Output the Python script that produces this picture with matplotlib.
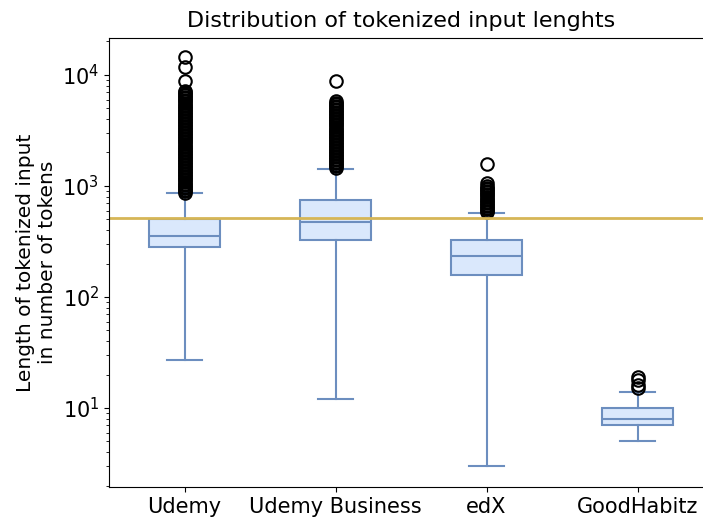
#Boxplot of tokenized input lengths per platform, log scale, 512 token limit line
import matplotlib
matplotlib.use("Agg")
import matplotlib.pyplot as plt

platforms = ["Udemy", "Udemy Business", "edX", "GoodHabitz"]
whislo = [27, 12, 3, 5]
q1 = [282, 327, 158, 7]
med = [355, 474, 234, 8]
q3 = [505, 748, 327, 10]
whishi = [865, 1420, 571, 14]

# outliers (dense runs listed as visible)
udemy_fliers = [870, 898, 927, 956, 987, 1019, 1051, 1085, 1120, 1156, 1193, 1231,
                1270, 1311, 1353, 1396, 1441, 1487, 1535, 1584, 1635, 1687, 1741, 1797,
                1854, 1914, 1975, 2038, 2103, 2171, 2240, 2312, 2386, 2462, 2541, 2622,
                2706, 2793, 2882, 2974, 3069, 3168, 3269, 3374, 3482, 3593, 3708, 3827,
                3949, 4075, 4206, 4340, 4479, 4623, 4770, 4923, 5081, 5243, 5411, 5584,
                5762, 5947, 6137, 6333, 6536, 6745, 6961, 7184, 8830, 11800, 14500]
business_fliers = [1450, 1496, 1544, 1594, 1645, 1697, 1752, 1808, 1866, 1925, 1987,
                   2050, 2116, 2184, 2254, 2326, 2400, 2477, 2556, 2638, 2722, 2809,
                   2899, 2992, 3088, 3187, 3289, 3394, 3502, 3614, 3730, 3849, 3972,
                   4100, 4231, 4366, 4506, 4650, 4799, 4952, 5111, 5274, 5443, 5617,
                   5797, 8840]
edx_fliers = [580, 599, 618, 638, 658, 679, 701, 723, 746, 770, 795, 820, 847, 874,
              902, 930, 960, 1000, 1065, 1580]
goodhabitz_fliers = [15, 16, 18, 19]
fliers = [udemy_fliers, business_fliers, edx_fliers, goodhabitz_fliers]

token_limit = 512

stats = []
for i in range(len(platforms)):
    stats.append({"label": platforms[i], "whislo": whislo[i], "q1": q1[i], "med": med[i],
                  "q3": q3[i], "whishi": whishi[i], "fliers": fliers[i]})

fig = plt.figure(figsize=(7.03, 5.23), dpi=100)
ax = fig.add_axes([109/703, 36/523, 604/703, 449/523])

edge = "#6c8ebf"
ax.bxp(stats, widths=0.47, patch_artist=True,
       boxprops=dict(facecolor="#dae8fc", edgecolor=edge, linewidth=1.5),
       whiskerprops=dict(color=edge, linewidth=1.5),
       capprops=dict(color=edge, linewidth=1.5),
       medianprops=dict(color=edge, linewidth=1.5),
       flierprops=dict(marker="o", markerfacecolor="none", markeredgecolor="black",
                       markersize=9, markeredgewidth=1.5))
ax.axhline(token_limit, color="#d6b656", linewidth=2)

ax.set_yscale("log")
ax.set_ylim(1.94, 21500)
ax.set_xlim(0.5, 4.5)
ax.spines["right"].set_visible(False)
ax.tick_params(labelsize=15)
ax.set_title("Distribution of tokenized input lenghts", fontsize=16, x=0.484, pad=8)
ax.set_ylabel("Length of tokenized input\nin number of tokens", fontsize=14.5)
plt.savefig("out.png", dpi=100)
